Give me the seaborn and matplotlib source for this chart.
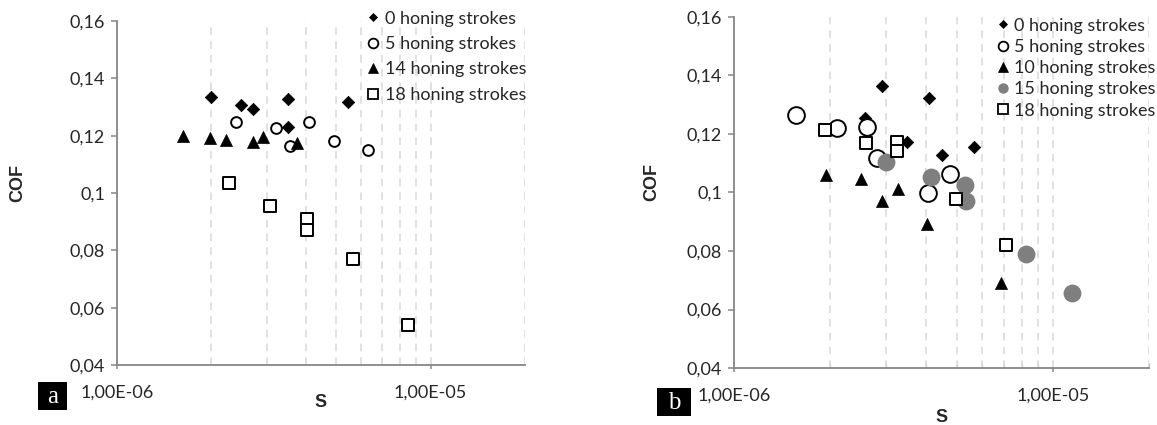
import numpy as np
import pandas as pd
import seaborn as sns
import matplotlib.pyplot as plt
from matplotlib.lines import Line2D
from matplotlib.patches import Rectangle
from matplotlib.ticker import FixedLocator, FuncFormatter, NullFormatter

# Plot style
sns.set_theme(style="white")
plt.rcParams['font.family'] = ['Lato', 'DejaVu Sans']

# Panel a: COF vs S for 0/5/14/18 honing strokes
a_s_0 = [2.00e-6, 2.48e-6, 2.71e-6, 3.50e-6, 3.50e-6, 5.44e-6]
a_cof_0 = [0.1335, 0.1307, 0.1293, 0.1328, 0.1230, 0.1317]
a_s_5 = [2.39e-6, 3.21e-6, 3.56e-6, 4.09e-6, 4.91e-6, 6.30e-6]
a_cof_5 = [0.1248, 0.1227, 0.1164, 0.1248, 0.1181, 0.1150]
a_s_14 = [1.62e-6, 1.98e-6, 2.22e-6, 2.71e-6, 2.92e-6, 3.74e-6]
a_cof_14 = [0.1199, 0.1192, 0.1185, 0.1178, 0.1195, 0.1174]
a_s_18 = [2.27e-6, 3.07e-6, 4.03e-6, 4.03e-6, 5.64e-6, 8.45e-6]
a_cof_18 = [0.1035, 0.0955, 0.0909, 0.0871, 0.0770, 0.0540]

# Panel b: COF vs S for 0/5/10/15/18 honing strokes
b_s_0 = [2.57e-6, 2.92e-6, 3.48e-6, 4.10e-6, 4.50e-6, 5.67e-6]
b_cof_0 = [0.1255, 0.1364, 0.1173, 0.1323, 0.1128, 0.1156]
b_s_5 = [1.57e-6, 2.10e-6, 2.61e-6, 2.80e-6, 4.07e-6, 4.77e-6]
b_cof_5 = [0.1265, 0.1220, 0.1224, 0.1118, 0.0998, 0.1063]
b_s_10 = [1.94e-6, 2.51e-6, 2.92e-6, 3.26e-6, 4.02e-6, 6.89e-6]
b_cof_10 = [0.1060, 0.1046, 0.0971, 0.1012, 0.0892, 0.0691]
b_s_15 = [2.99e-6, 4.16e-6, 5.28e-6, 5.35e-6, 8.25e-6, 1.15e-5]
b_cof_15 = [0.1104, 0.1053, 0.1026, 0.0971, 0.0790, 0.0656]
b_s_18 = [1.93e-6, 2.59e-6, 3.24e-6, 3.24e-6, 4.95e-6, 7.14e-6]
b_cof_18 = [0.1214, 0.1169, 0.1173, 0.1142, 0.0978, 0.0820]

y_ticks = [0.04, 0.06, 0.08, 0.10, 0.12, 0.14, 0.16]
x_major = [1e-6, 1e-5]
x_minor = [2e-6, 3e-6, 4e-6, 5e-6, 6e-6, 7e-6, 8e-6, 9e-6, 2e-5]

AXIS_GRAY = '#868686'
GRID_GRAY = '#d9d9d9'
DOT_GRAY = '#7f7f7f'

fig = plt.figure(figsize=(11.57, 4.25), dpi=100)
ax_a = fig.add_axes([117 / 1157, 1 - 365 / 425, 408 / 1157, 344 / 425])
ax_b = fig.add_axes([734 / 1157, 1 - 368 / 425, 415 / 1157, 351 / 425])


def draw(ax, s, cof, marker, size, face, edge, lw):
    sns.scatterplot(x=s, y=cof, marker=marker, s=size, facecolors=face,
                    edgecolors=edge, linewidth=lw, ax=ax, zorder=3, legend=False)


def style_axes(ax, minor_ticks):
    ax.set_xscale('log')
    ax.set_xlim(1e-6, 2e-5)
    ax.set_ylim(0.04, 0.16)
    ax.xaxis.set_major_locator(FixedLocator(x_major))
    ax.xaxis.set_minor_locator(FixedLocator(x_minor))
    ax.xaxis.set_major_formatter(FuncFormatter(lambda v, p: f"{v:.2E}".replace('.', ',')))
    ax.xaxis.set_minor_formatter(NullFormatter())
    ax.yaxis.set_major_locator(FixedLocator(y_ticks))
    ax.yaxis.set_major_formatter(FuncFormatter(lambda v, p: f"{v:g}".replace('.', ',')))
    ax.grid(False)
    for v in x_minor + [1e-5]:
        ax.axvline(v, color=GRID_GRAY, lw=1.1, ls=(0, (5, 4)), zorder=1)
    for side in ['top', 'right']:
        ax.spines[side].set_visible(False)
    for side in ['left', 'bottom']:
        ax.spines[side].set_color(AXIS_GRAY)
        ax.spines[side].set_linewidth(1.3)
    ax.tick_params(axis='y', which='major', direction='out', length=4.5, width=1.1,
                   color=AXIS_GRAY, labelsize=13, pad=4, left=True)
    ax.tick_params(axis='x', which='major', direction='out', length=3, width=1.1,
                   color=AXIS_GRAY, labelsize=13, pad=11, bottom=True)
    if minor_ticks:
        ax.tick_params(axis='x', which='minor', direction='in', length=3.5, width=0.8,
                       color='#bfbfbf', bottom=True)
    else:
        ax.tick_params(axis='x', which='minor', length=0)
    bold = dict(fontsize=13, fontweight='bold', family=['Liberation Sans', 'DejaVu Sans'])
    ax.set_ylabel('COF', **bold)
    ax.yaxis.label.set_va('center')
    ax.set_xlabel('S', **bold)
    ax.xaxis.label.set_va('center')


# Panel a
draw(ax_a, a_s_0, a_cof_0, 'D', 40, 'black', 'black', 0.5)
draw(ax_a, a_s_5, a_cof_5, 'o', 60, 'white', 'black', 1.4)
draw(ax_a, a_s_14, a_cof_14, '^', 75, 'black', 'black', 0.5)
draw(ax_a, a_s_18, a_cof_18, 's', 72, 'white', 'black', 1.4)
style_axes(ax_a, False)
ax_a.yaxis.set_label_coords(-0.243, 0.529)
ax_a.xaxis.set_label_coords(0.5, -0.11)

# Panel b
draw(ax_b, b_s_0, b_cof_0, 'D', 40, 'black', 'black', 0.5)
draw(ax_b, b_s_5, b_cof_5, 'o', 145, 'white', 'black', 1.4)
draw(ax_b, b_s_10, b_cof_10, '^', 75, 'black', 'black', 0.5)
draw(ax_b, b_s_15, b_cof_15, 'o', 165, DOT_GRAY, DOT_GRAY, 0)
draw(ax_b, b_s_18, b_cof_18, 's', 72, 'white', 'black', 1.4)
style_axes(ax_b, True)
ax_b.yaxis.set_label_coords(-0.198, 0.53)
ax_b.xaxis.set_label_coords(0.5, -0.142)


def handle(marker, ms, face, edge, mew):
    return Line2D([], [], ls='none', marker=marker, markersize=ms,
                  markerfacecolor=face, markeredgecolor=edge, markeredgewidth=mew)


a_handles = [handle('D', 4.2, 'black', 'black', 0.5),
             handle('o', 7, 'white', 'black', 1.3),
             handle('^', 6.5, 'black', 'black', 0.5),
             handle('s', 7, 'white', 'black', 1.3)]
a_labels = ['0 honing strokes', '5 honing strokes', '14 honing strokes', '18 honing strokes']
ax_a.legend(a_handles, a_labels, loc='upper left', bbox_to_anchor=(0.61, 1.03),
            frameon=False, fontsize=13, handlelength=0.8, handletextpad=0.25,
            labelspacing=0.52, borderpad=0, borderaxespad=0)

b_handles = [handle('D', 4.2, 'black', 'black', 0.5),
             handle('o', 7, 'white', 'black', 1.3),
             handle('^', 6.5, 'black', 'black', 0.5),
             handle('o', 7.5, DOT_GRAY, DOT_GRAY, 0),
             handle('s', 7, 'white', 'black', 1.3)]
b_labels = ['0 honing strokes', '5 honing strokes', '10 honing strokes',
            '15 honing strokes', '18 honing strokes']
ax_b.legend(b_handles, b_labels, loc='upper left', bbox_to_anchor=(0.63, 0.998),
            frameon=False, fontsize=13, handlelength=0.8, handletextpad=0.25,
            labelspacing=0.29, borderpad=0, borderaxespad=0)

# Panel letters in black boxes
for x0, y0, w, h, letter in [(38, 382, 29, 28, 'a'), (657, 388, 34, 28, 'b')]:
    fig.patches.append(Rectangle((x0 / 1157, 1 - (y0 + h) / 425), w / 1157, h / 425,
                                 transform=fig.transFigure, facecolor='black',
                                 edgecolor='none'))
    fig.text((x0 + w / 2) / 1157, 1 - (y0 + h / 2 + 1) / 425, letter, color='white',
             fontsize=18, family=['Liberation Serif', 'DejaVu Serif'],
             ha='center', va='center')

fig.savefig('out.png', dpi=100, facecolor='white')
